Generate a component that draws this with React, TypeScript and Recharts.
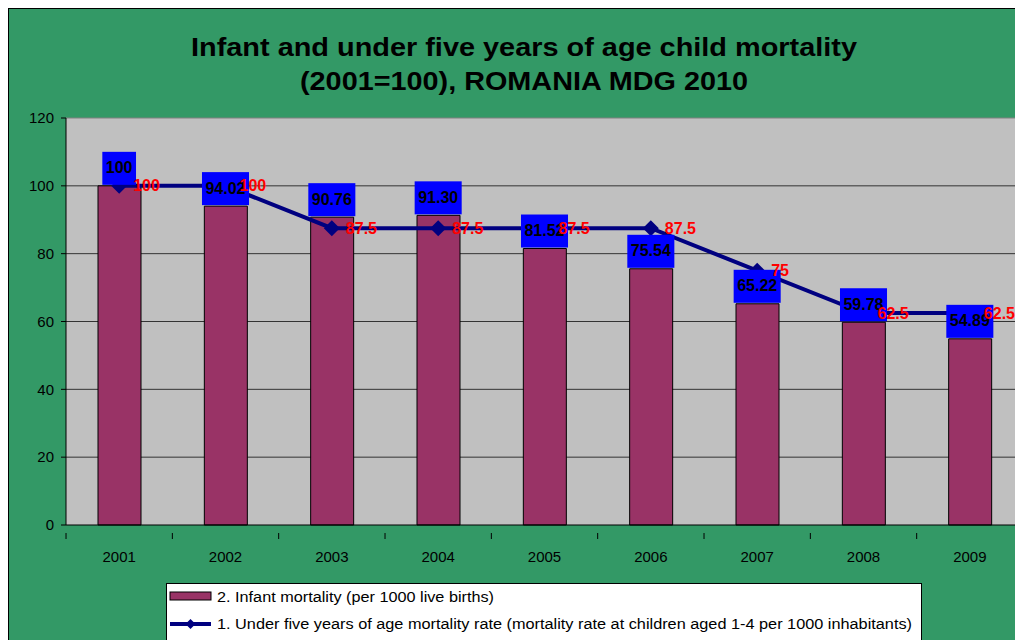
import React from 'react';
import {
  ComposedChart,
  Bar,
  Line,
  XAxis,
  YAxis,
  CartesianGrid,
  ReferenceLine,
  LabelList,
} from 'recharts';

const years = ['2001', '2002', '2003', '2004', '2005', '2006', '2007', '2008', '2009'];
const infantMortality = [100, 94.02, 90.76, 91.3, 81.52, 75.54, 65.22, 59.78, 54.89];
const infantLabels = ['100', '94.02', '90.76', '91.30', '81.52', '75.54', '65.22', '59.78', '54.89'];
const underFive = [100, 100, 87.5, 87.5, 87.5, 87.5, 75, 62.5, 62.5];
const yTicks = [0, 20, 40, 60, 80, 100, 120];

const data = years.map((year, i) => ({
  year,
  infant: infantMortality[i],
  infantLabel: infantLabels[i],
  under5: underFive[i],
}));

const FONT = '"Liberation Sans", Arial, sans-serif';
const GREEN = '#339966';
const BAR = '#993366';
const NAVY = '#000080';
const LABEL_FS = 16;

const textWidth = (s: string, fs: number) =>
  s.split('').reduce((w, c) => w + (c === '.' ? 0.278 : 0.556) * fs, 0);

// blue boxed value above each bar
const BlueLabel = (props: any) => {
  const { x, y, value } = props;
  const w = textWidth(String(value), LABEL_FS) + 7;
  return (
    <g>
      <rect x={x - w / 2} y={y - 34} width={w} height={33} fill="#0000FF" />
      <text
        x={x}
        y={y - 18}
        textAnchor="middle"
        dominantBaseline="central"
        fontFamily={FONT}
        fontWeight="bold"
        fontSize={LABEL_FS}
        fill="#000"
      >
        {value}
      </text>
    </g>
  );
};

const RedLabel = (props: any) => {
  const { x, y, value } = props;
  return (
    <text
      x={x + 14}
      y={y}
      dominantBaseline="central"
      fontFamily={FONT}
      fontWeight="bold"
      fontSize={LABEL_FS}
      fill="#FF0000"
    >
      {value}
    </text>
  );
};

const Diamond = (props: any) => {
  const { cx, cy } = props;
  if (cx == null || cy == null) return null;
  const r = 8;
  return (
    <polygon
      points={`${cx},${cy - r} ${cx + r},${cy} ${cx},${cy + r} ${cx - r},${cy}`}
      fill={NAVY}
    />
  );
};

// tick marks sit between categories, labels in the middle
const YearTick = (props: any) => {
  const { x, y, payload } = props;
  const half = 106.3 / 2;
  return (
    <g>
      <line x1={x - half} y1={y} x2={x - half} y2={y + 6} stroke="#000" />
      <text x={x} y={y + 23} textAnchor="middle" dominantBaseline="central" fontFamily={FONT} fontSize={15} fill="#000">
        {payload.value}
      </text>
    </g>
  );
};

const LegendBox = () => (
  <div
    style={{
      position: 'absolute',
      left: 157,
      top: 574,
      width: 754,
      height: 80,
      background: '#fff',
      border: '1px solid #000',
    }}
  >
    <svg width={754} height={60} style={{ position: 'absolute', left: 0, top: 0 }}>
      <rect x={3} y={8} width={41} height={8} fill={BAR} stroke="#000" />
      <text x={50} y={18} fontFamily={FONT} fontSize={14} textLength={277} lengthAdjust="spacingAndGlyphs">
        2. Infant mortality (per 1000 live births)
      </text>
      <line x1={3} y1={40} x2={44} y2={40} stroke={NAVY} strokeWidth={4} />
      <polygon points="23.5,35 28.5,40 23.5,45 18.5,40" fill={NAVY} />
      <text x={50} y={45} fontFamily={FONT} fontSize={14} textLength={695} lengthAdjust="spacingAndGlyphs">
        1. Under five years of age mortality rate (mortality rate at children aged 1-4 per 1000 inhabitants)
      </text>
    </svg>
  </div>
);

const Title = () => (
  <svg width={1014} height={100} style={{ position: 'absolute', left: 0, top: 0 }}>
    <text
      x={515}
      y={47}
      textAnchor="middle"
      fontFamily={FONT}
      fontWeight="bold"
      fontSize={25}
      textLength={666}
      lengthAdjust="spacingAndGlyphs"
    >
      Infant and under five years of age child mortality
    </text>
    <text
      x={515}
      y={81}
      textAnchor="middle"
      fontFamily={FONT}
      fontWeight="bold"
      fontSize={25}
      textLength={448}
      lengthAdjust="spacingAndGlyphs"
    >
      (2001=100), ROMANIA MDG 2010
    </text>
  </svg>
);

export default function App() {
  return (
    <div
      style={{
        position: 'relative',
        width: 1015,
        height: 632,
        boxSizing: 'border-box',
        background: GREEN,
        borderLeft: '1px solid #000',
        borderTop: '1px solid #000',
        overflow: 'hidden',
        fontFamily: FONT,
      }}
    >
      <Title />
      <div style={{ position: 'absolute', left: 0, top: 0 }}>
        <ComposedChart
          width={1014}
          height={631}
          data={data}
          margin={{ top: 109, right: 0, left: 0, bottom: 85 }}
          barSize={43}
        >
          <CartesianGrid
            vertical={false}
            horizontalValues={[20, 40, 60, 80, 100]}
            stroke="#333"
            fill="#C0C0C0"
            fillOpacity={1}
          />
          <ReferenceLine y={120} stroke="#808080" />
          <XAxis
            dataKey="year"
            height={30}
            axisLine={{ stroke: '#000' }}
            tickLine={false}
            tick={<YearTick />}
            interval={0}
          />
          <YAxis
            width={57}
            domain={[0, 120]}
            ticks={yTicks}
            axisLine={{ stroke: '#000' }}
            tickLine={{ stroke: '#000' }}
            tickSize={5}
            tickMargin={7}
            tick={{ fontFamily: FONT, fontSize: 15, fill: '#000' }}
          />
          <Bar dataKey="infant" fill={BAR} stroke="#000" strokeWidth={1} isAnimationActive={false} />
          <Line
            dataKey="under5"
            type="linear"
            stroke={NAVY}
            strokeWidth={4}
            dot={<Diamond />}
            activeDot={false}
            isAnimationActive={false}
          />
          <Line
            dataKey="infant"
            stroke="none"
            dot={false}
            activeDot={false}
            legendType="none"
            isAnimationActive={false}
          >
            <LabelList dataKey="infantLabel" content={<BlueLabel />} />
          </Line>
          <Line
            dataKey="under5"
            stroke="none"
            dot={false}
            activeDot={false}
            legendType="none"
            isAnimationActive={false}
          >
            <LabelList dataKey="under5" content={<RedLabel />} />
          </Line>
        </ComposedChart>
      </div>
      <LegendBox />
    </div>
  );
}
